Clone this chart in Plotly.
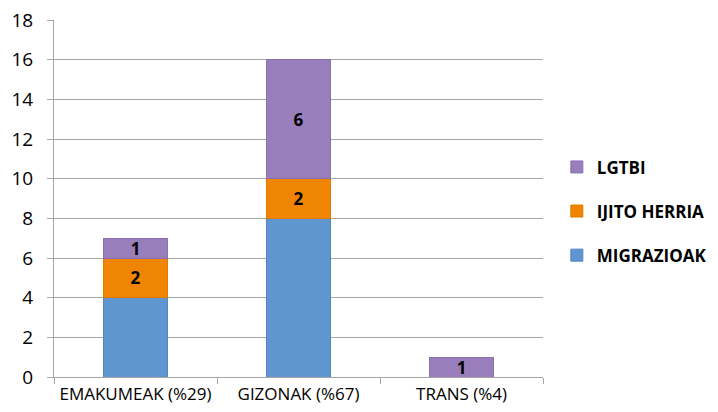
import plotly.graph_objects as go

categories = ["EMAKUMEAK (%29)", "GIZONAK (%67)", "TRANS (%4)"]
migrazioak = [4, 8, 0]
ijito_herria = [2, 2, 0]
lgtbi = [1, 6, 1]
y_ticks = [0, 2, 4, 6, 8, 10, 12, 14, 16, 18]

def lbl(vals):
    return [str(v) if v else "" for v in vals]

label_font = dict(color="black", size=17, family="Open Sans", weight="bold")

fig = go.Figure()
fig.add_trace(go.Bar(x=categories, y=migrazioak, name="MIGRAZIOAK",
                     marker=dict(color="#5f96cf", line=dict(color="#4f86c4", width=1)),
                     legendgroup="a", legendrank=3))
fig.add_trace(go.Bar(x=categories, y=ijito_herria, name="IJITO HERRIA",
                     marker=dict(color="#ef8503", line=dict(color="#e07a00", width=1)),
                     text=lbl(ijito_herria), textposition="inside", insidetextanchor="middle",
                     textangle=0, textfont=label_font, legendgroup="b", legendrank=2))
fig.add_trace(go.Bar(x=categories, y=lgtbi, name="LGTBI",
                     marker=dict(color="#987fbb", line=dict(color="#8a70b0", width=1)),
                     text=lbl(lgtbi), textposition="inside", insidetextanchor="middle",
                     textangle=0, textfont=label_font, legendgroup="c", legendrank=1))

fig.update_layout(
    barmode="stack",
    bargap=0.61,
    width=710, height=404,
    margin=dict(l=46, r=175, t=12, b=35, autoexpand=False),
    paper_bgcolor="white", plot_bgcolor="white",
    font=dict(family="Open Sans", color="black"),
    uniformtext=dict(minsize=17, mode="show"),
    legend=dict(xref="container", yref="container", x=0.773, y=0.65,
                xanchor="left", yanchor="top",
                traceorder="grouped", tracegroupgap=19,
                font=dict(size=17, family="Open Sans", weight="bold"),
                itemwidth=30),
    showlegend=True,
)
fig.update_yaxes(range=[0, 18], tickvals=y_ticks, showgrid=True, gridcolor="#a6a6a6",
                 gridwidth=1, showline=True, linecolor="#a6a6a6", ticks="outside",
                 ticklen=6, tickcolor="#a6a6a6", tickfont=dict(size=19), zeroline=False,
                 ticklabelstandoff=10, automargin=False, ticklabeloverflow="allow")
fig.update_xaxes(showline=True, linecolor="#a6a6a6", ticks="outside", tickson="boundaries",
                 ticklen=6, tickcolor="#a6a6a6", tickfont=dict(size=17), automargin=False,
                 tickangle=0, ticklabelstandoff=2, ticklabeloverflow="allow")
fig.write_html("out.html")
